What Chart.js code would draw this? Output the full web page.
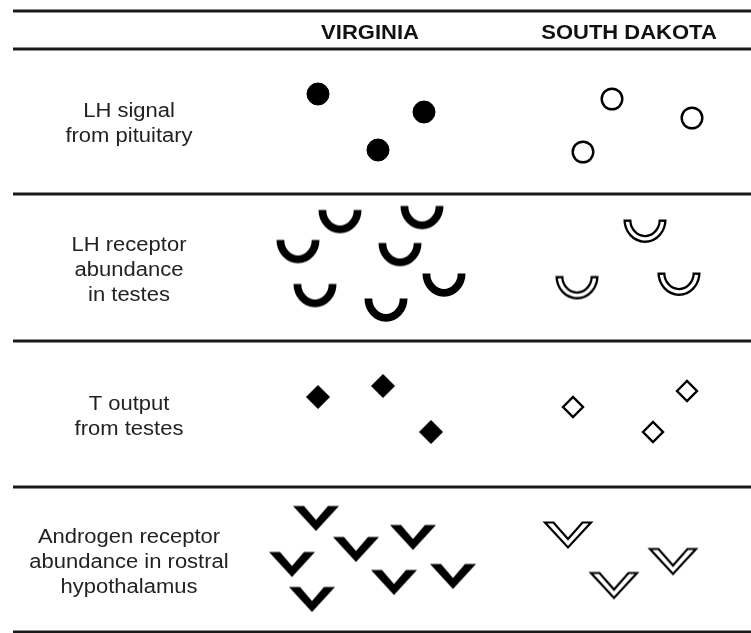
<!DOCTYPE html>
<html><head><meta charset="utf-8">
<script src="https://cdn.jsdelivr.net/npm/chart.js@4"></script>
<style>html,body{margin:0;padding:0;background:#fff}canvas{display:block}</style>
</head><body>
<canvas id="c" width="751" height="633"></canvas>
<script>
// ---- Diagram data (positions in the diagram's own coordinate space: x 0–751, y 0–633) ----
const rowBoundaries = [11, 49, 194, 341, 487, 632];
const columnHeaders = ['VIRGINIA', 'SOUTH DAKOTA'];
const headerX = [370, 629];
const headerBaseline = 39;
const rowLabels = [
  ['LH signal', 'from pituitary'],
  ['LH receptor', 'abundance', 'in testes'],
  ['T output', 'from testes'],
  ['Androgen receptor', 'abundance in rostral', 'hypothalamus']
];
const labelX = 129;

// LH signal from pituitary (circles)
const lhVirginiaX = [318, 424, 378];
const lhVirginiaY = [94, 112, 150];
const lhDakotaX = [612, 692, 583];
const lhDakotaY = [99, 118, 152];

// LH receptor abundance in testes (half-ring cups)
const lhrVirginiaX = [340, 422, 298, 400, 315, 444, 386];
const lhrVirginiaY = [221.5, 217.5, 251.5, 254.5, 295.5, 285, 310];
const lhrDakotaX = [645, 577, 679];
const lhrDakotaY = [231, 287.5, 284];

// T output from testes (diamonds)
const tVirginiaX = [318, 383, 431];
const tVirginiaY = [397, 386, 432];
const tDakotaX = [573, 687, 653];
const tDakotaY = [407, 391, 432];

// Androgen receptor abundance in rostral hypothalamus (chevrons)
const arVirginiaX = [316, 356, 413, 292, 394, 453, 312];
const arVirginiaY = [518.5, 549.5, 537.5, 564.5, 582.5, 576.5, 599.5];
const arDakotaX = [568, 614, 673];
const arDakotaY = [535, 585.5, 561.5];

// ---- helpers ----
const zip = (xs, ys) => xs.map((v, i) => ({x: v, y: ys[i]}));
function makeCanvas(w, h){ const c = document.createElement('canvas'); c.width = w; c.height = h; return c; }
function cupSymbol(open){
  const c = makeCanvas(48, 30), g = c.getContext('2d');
  const cx = 24, cy = 3.5, rx = 17.6, ry = 19.4;
  g.lineCap = 'butt';
  g.beginPath(); g.ellipse(cx, cy, rx, ry, 0, 0, Math.PI);
  g.strokeStyle = '#000'; g.lineWidth = open ? 8 : 7.8; g.stroke();
  if (open){
    g.beginPath(); g.ellipse(cx, cy, rx, ry, 0, 0.12, Math.PI - 0.12);
    g.strokeStyle = '#fff'; g.lineWidth = 3.4; g.stroke();
  }
  return c;
}
function chevronSymbol(open){
  const c = makeCanvas(52, 30), g = c.getContext('2d');
  const w = 46, h = 25, ox = 3, oy = 2.5;
  const a = open ? 8.5 : 11, d = open ? 8.5 : 11;
  g.beginPath();
  g.moveTo(ox, oy); g.lineTo(ox + a, oy); g.lineTo(ox + w/2, oy + h - d);
  g.lineTo(ox + w - a, oy); g.lineTo(ox + w, oy); g.lineTo(ox + w/2, oy + h);
  g.closePath();
  if (open){
    g.fillStyle = '#fff'; g.fill();
    g.lineJoin = 'miter'; g.lineWidth = 2.2; g.strokeStyle = '#000'; g.stroke();
  } else {
    g.fillStyle = '#000'; g.fill();
  }
  return c;
}

const ruleDatasets = rowBoundaries.map(b => ({
  data: [{x: 13, y: b}, {x: 751, y: b}],
  showLine: true, borderColor: '#1a1a1a', borderWidth: 3, pointRadius: 0
}));

const textPlugin = {
  id: 'diagramText',
  afterDatasetsDraw(chart){
    const {ctx, scales: {x, y}} = chart;
    const drawStretched = (t, px, py) => {
      ctx.save(); ctx.translate(px, py); ctx.scale(1.1, 1); ctx.fillText(t, 0, 0); ctx.restore();
    };
    ctx.save();
    ctx.textAlign = 'center'; ctx.textBaseline = 'alphabetic';
    ctx.font = 'bold 20px "Liberation Sans", Arial, sans-serif';
    ctx.fillStyle = '#111';
    columnHeaders.forEach((t, i) => drawStretched(t, x.getPixelForValue(headerX[i]), y.getPixelForValue(headerBaseline)));
    ctx.font = '20px "Liberation Sans", Arial, sans-serif';
    ctx.fillStyle = '#222';
    const step = 25;
    rowLabels.forEach((lines, i) => {
      const center = (rowBoundaries[i + 1] + rowBoundaries[i + 2]) / 2;
      const first = center - (lines.length - 1) / 2 * step + 8;
      lines.forEach((t, j) => drawStretched(t, x.getPixelForValue(labelX), y.getPixelForValue(first + j * step)));
    });
    ctx.restore();
  }
};

new Chart(document.getElementById('c'), {
  type: 'scatter',
  data: {
    datasets: [
      ...ruleDatasets,
      {data: zip(lhVirginiaX, lhVirginiaY), pointStyle: 'circle', pointRadius: 11, backgroundColor: '#000', borderColor: '#000', borderWidth: 1},
      {data: zip(lhDakotaX, lhDakotaY), pointStyle: 'circle', pointRadius: 10.3, backgroundColor: '#fff', borderColor: '#000', borderWidth: 2.4},
      {data: zip(lhrVirginiaX, lhrVirginiaY), pointStyle: cupSymbol(false), pointRadius: 20},
      {data: zip(lhrDakotaX, lhrDakotaY), pointStyle: cupSymbol(true), pointRadius: 20},
      {data: zip(tVirginiaX, tVirginiaY), pointStyle: 'rectRot', pointRadius: 11.5, backgroundColor: '#000', borderColor: '#000', borderWidth: 1},
      {data: zip(tDakotaX, tDakotaY), pointStyle: 'rectRot', pointRadius: 10, backgroundColor: '#fff', borderColor: '#000', borderWidth: 2.4},
      {data: zip(arVirginiaX, arVirginiaY), pointStyle: chevronSymbol(false), pointRadius: 20},
      {data: zip(arDakotaX, arDakotaY), pointStyle: chevronSymbol(true), pointRadius: 20}
    ]
  },
  options: {
    responsive: false, animation: false, events: [],
    layout: {padding: 0, autoPadding: false},
    plugins: {legend: {display: false}, tooltip: {enabled: false}, title: {display: false}},
    scales: {
      x: {type: 'linear', min: 0, max: 751, display: false},
      y: {type: 'linear', min: 0, max: 633, reverse: true, display: false}
    }
  },
  plugins: [textPlugin]
});
</script>
</body></html>
